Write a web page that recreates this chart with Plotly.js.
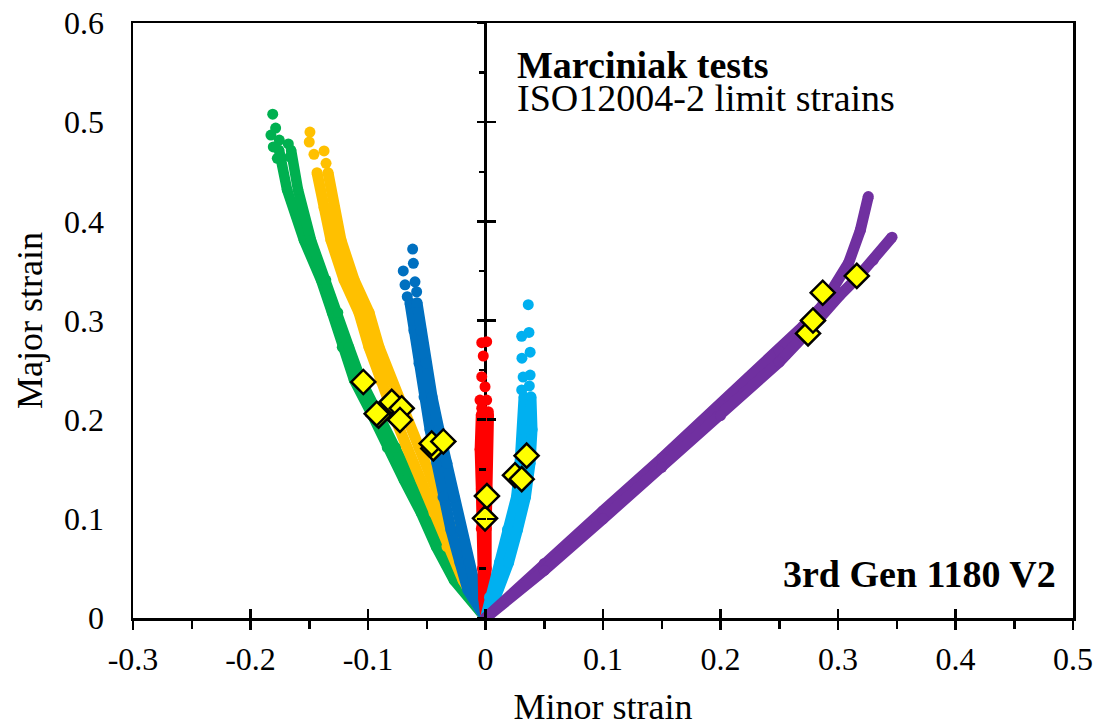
<!DOCTYPE html>
<html>
<head>
<meta charset="utf-8">
<script src="https://cdn.plot.ly/plotly-3.0.1.min.js"></script>
<style>html,body{margin:0;padding:0;background:#fff;}#chart{width:1097px;height:727px;}</style>
</head>
<body>
<div id="chart"></div>
<script>
// ---- Data (minor strain = x, major strain = y) ----
// Green tests
const greenAX = [-0.1757,-0.1689,-0.1545,-0.1400,-0.1306,-0.1221,-0.1119,-0.0974,-0.0838,-0.0694,-0.0549,-0.0421,-0.0268,0];
const greenAY = [0.472,0.432,0.381,0.341,0.308,0.273,0.240,0.207,0.172,0.139,0.106,0.072,0.038,0];
const greenBX = [-0.1655,-0.1596,-0.1485,-0.1357,-0.1255,-0.1162,-0.1060,-0.0915,-0.0762,-0.0617,-0.0489,-0.0362,-0.0226,0];
const greenBY = [0.472,0.432,0.381,0.341,0.308,0.273,0.240,0.207,0.172,0.139,0.106,0.072,0.038,0];
const greenTipX = [-0.1811,-0.1786,-0.1826,-0.1755,-0.1806,-0.1678,-0.1772,-0.1664];
const greenTipY = [0.508,0.494,0.487,0.482,0.475,0.478,0.4635,0.465];
// Yellow tests
const yellowAX = [-0.1434,-0.1374,-0.1315,-0.1204,-0.1077,-0.0991,-0.0898,-0.0787,-0.0668,-0.0549,-0.0438,-0.0328,-0.0191,0];
const yellowAY = [0.449,0.414,0.381,0.341,0.308,0.273,0.240,0.207,0.172,0.139,0.106,0.072,0.038,0];
const yellowBX = [-0.1340,-0.1289,-0.1230,-0.1119,-0.0991,-0.0906,-0.0804,-0.0685,-0.0566,-0.0447,-0.0336,-0.0226,-0.0132,0];
const yellowBY = [0.449,0.414,0.381,0.341,0.308,0.273,0.240,0.207,0.172,0.139,0.106,0.072,0.038,0];
const yellowTipX = [-0.1494,-0.1500,-0.1460,-0.1374,-0.1357];
const yellowTipY = [0.490,0.480,0.4676,0.471,0.4585];
// Blue tests
const blueAX = [-0.0643,-0.0609,-0.0566,-0.0523,-0.0472,-0.0413,-0.0362,-0.0294,-0.0217,-0.0149,0];
const blueAY = [0.318,0.290,0.257,0.223,0.190,0.156,0.122,0.089,0.056,0.028,0];
const blueBX = [-0.0583,-0.0549,-0.0506,-0.0455,-0.0396,-0.0328,-0.0268,-0.0209,-0.0140,-0.0081,0];
const blueBY = [0.318,0.290,0.257,0.223,0.190,0.156,0.122,0.089,0.056,0.028,0];
const blueTipX = [-0.0620,-0.0614,-0.0700,-0.0600,-0.0685,-0.0586,-0.0666];
const blueTipY = [0.372,0.3577,0.350,0.339,0.336,0.329,0.324];
// Red tests
const redAX = [-0.004,-0.005,-0.004,-0.004,-0.003,-0.002,0];
const redAY = [0.205,0.170,0.130,0.090,0.050,0.020,0];
const redBX = [0.003,0.002,0.002,0.001,0.001,0.001,0];
const redBY = [0.205,0.170,0.130,0.090,0.050,0.020,0];
const redTipX = [-0.0032,0.0010,-0.0019,-0.0032,-0.0004,-0.0047,0.0010,-0.0032,0.0024];
const redTipY = [0.2776,0.2786,0.2642,0.2433,0.2332,0.2198,0.2198,0.2115,0.208];
// Light blue tests
const lblueAX = [0.0328,0.0319,0.0294,0.0264,0.0187,0.0119,0.0034,0];
const lblueAY = [0.223,0.190,0.156,0.122,0.089,0.056,0.021,0];
const lblueBX = [0.0387,0.0396,0.0379,0.0340,0.0272,0.0196,0.0085,0];
const lblueBY = [0.223,0.190,0.156,0.122,0.089,0.056,0.021,0];
const lblueTipX = [0.0364,0.0308,0.0370,0.0310,0.0380,0.0320,0.0380,0.0308,0.0373];
const lblueTipY = [0.316,0.284,0.288,0.262,0.268,0.243,0.245,0.230,0.234];
// Purple tests
const purpleAX = [0,0.05,0.10,0.15,0.20,0.25,0.270,0.286,0.297,0.309,0.319,0.3258];
const purpleAY = [0,0.055,0.108,0.161,0.215,0.269,0.294,0.314,0.334,0.358,0.391,0.425];
const purpleBX = [0,0.05,0.10,0.15,0.20,0.25,0.270,0.2847,0.3017,0.316,0.330,0.346];
const purpleBY = [0,0.048,0.100,0.152,0.204,0.258,0.283,0.3038,0.3257,0.3425,0.361,0.384];
// ISO 12004-2 limit strains
const limitX = [-0.104,-0.0910,-0.0926,-0.0798,-0.0713,-0.0728,-0.0444,-0.0458,-0.0359,-0.0004,0.0012,0.0251,0.0308,0.0350,0.2745,0.2787,0.2870,0.3160];
const limitY = [0.238,0.204,0.206,0.218,0.2115,0.1997,0.171,0.176,0.178,0.1005,0.123,0.144,0.140,0.1637,0.287,0.300,0.328,0.345];
// Axis ticks
const xTickVals = [-0.3,-0.2,-0.1,0,0.1,0.2,0.3,0.4,0.5];
const xTickText = ['-0.3','-0.2','-0.1','0','0.1','0.2','0.3','0.4','0.5'];
const yTickVals = [0,0.1,0.2,0.3,0.4,0.5,0.6];
const yTickText = ['0','0.1','0.2','0.3','0.4','0.5','0.6'];

const colors = {green:'#00B050', yellow:'#FFC000', blue:'#0070C0', red:'#FF0000', lblue:'#00B0F0', purple:'#7030A0'};

function band(x, y, c, w){
  return {x:x, y:y, type:'scatter', mode:'lines+markers', line:{color:c, width:w},
          marker:{color:c, size:w}, hoverinfo:'skip', showlegend:false};
}
function tips(x, y, c){
  return {x:x, y:y, type:'scatter', mode:'markers', marker:{color:c, size:11}, hoverinfo:'skip', showlegend:false};
}

const traces = [
  band(greenAX, greenAY, colors.green, 10.5), band(greenBX, greenBY, colors.green, 10.5), tips(greenTipX, greenTipY, colors.green),
  band(yellowAX, yellowAY, colors.yellow, 11), band(yellowBX, yellowBY, colors.yellow, 11), tips(yellowTipX, yellowTipY, colors.yellow),
  band(blueAX, blueAY, colors.blue, 11), band(blueBX, blueBY, colors.blue, 11), tips(blueTipX, blueTipY, colors.blue),
  band(redAX, redAY, colors.red, 10), band(redBX, redBY, colors.red, 10), tips(redTipX, redTipY, colors.red),
  band(lblueAX, lblueAY, colors.lblue, 11), band(lblueBX, lblueBY, colors.lblue, 11), tips(lblueTipX, lblueTipY, colors.lblue),
  band(purpleAX, purpleAY, colors.purple, 11), band(purpleBX, purpleBY, colors.purple, 11),
  {x:limitX, y:limitY, type:'scatter', mode:'markers', hoverinfo:'skip', showlegend:false,
   marker:{symbol:'diamond', size:18.5, color:'#FFFF00', line:{color:'#000000', width:2.5}}},
  // empty traces so the overlay tick axes are registered
  {x:[], y:[], type:'scatter', mode:'markers', xaxis:'x2', yaxis:'y', hoverinfo:'skip', showlegend:false},
  {x:[], y:[], type:'scatter', mode:'markers', xaxis:'x', yaxis:'y2', hoverinfo:'skip', showlegend:false},
  {x:[], y:[], type:'scatter', mode:'markers', xaxis:'x', yaxis:'y3', hoverinfo:'skip', showlegend:false}
];

const FONT = '"Liberation Serif", "Times New Roman", serif';
const layout = {
  width:1097, height:727,
  margin:{l:133, r:24, t:23, b:109},
  paper_bgcolor:'#ffffff', plot_bgcolor:'#ffffff',
  font:{family:FONT, color:'#000000'},
  showlegend:false,
  xaxis:{range:[-0.3,0.5], domain:[0,1], tickvals:xTickVals, ticktext:xTickText,
         showline:true, linecolor:'#000', linewidth:2.5, mirror:true,
         ticks:'outside', ticklen:9, tickwidth:2.5, tickcolor:'#000',
         minor:{ticks:'outside', ticklen:8, tickwidth:2.5, tickcolor:'#000', dtick:0.05, tick0:0, showgrid:false},
         showgrid:false, zeroline:true, zerolinecolor:'#000', zerolinewidth:2.5,
         tickfont:{family:FONT, size:32, color:'#000'}, ticklabelstandoff:2,
         title:{text:'Minor strain', font:{family:FONT, size:36, color:'#000'}, standoff:26}},
  xaxis2:{range:[-0.3,0.5], overlaying:'x', anchor:'y', tickvals:xTickVals, showticklabels:false,
          ticks:'inside', ticklen:9, tickwidth:2.5, tickcolor:'#000', showgrid:false, zeroline:false, showline:false},
  yaxis:{range:[0,0.6], domain:[0,1], tickvals:yTickVals, ticktext:yTickText,
         showline:true, linecolor:'#000', linewidth:2.5, mirror:true, ticks:'',
         showgrid:false, zeroline:false,
         tickfont:{family:FONT, size:32, color:'#000'}, ticklabelstandoff:20,
         title:{text:'Major strain', font:{family:FONT, size:36, color:'#000'}, standoff:11}},
  yaxis2:{range:[0,0.6], overlaying:'y', anchor:'free', position:0.375, tickvals:yTickVals, showticklabels:false,
          ticks:'outside', ticklen:9, tickwidth:2.5, tickcolor:'#000',
          minor:{ticks:'outside', ticklen:7, tickwidth:2.5, tickcolor:'#000', dtick:0.05, tick0:0, showgrid:false},
          showgrid:false, zeroline:false, showline:false},
  yaxis3:{range:[0,0.6], overlaying:'y', anchor:'free', position:0.375, tickvals:yTickVals, showticklabels:false,
          ticks:'inside', ticklen:9, tickwidth:2.5, tickcolor:'#000', showgrid:false, zeroline:false, showline:false},
  annotations:[
    {xref:'x', yref:'y', x:0.025, y:0.558, xanchor:'left', yanchor:'middle', showarrow:false, height:32,
     text:'<b>Marciniak tests</b>', font:{family:FONT, size:38, color:'#000'}},
    {xref:'x', yref:'y', x:0.025, y:0.524, xanchor:'left', yanchor:'middle', showarrow:false, height:32,
     text:'ISO12004-2 limit strains', font:{family:FONT, size:38, color:'#000'}},
    {xref:'x', yref:'y', x:0.487, y:0.044, xanchor:'right', yanchor:'middle', showarrow:false,
     text:'<b>3rd Gen 1180 V2</b>', font:{family:FONT, size:38, color:'#000'}}
  ]
};

Plotly.newPlot('chart', traces, layout, {staticPlot:true, displayModeBar:false});
</script>
</body>
</html>
